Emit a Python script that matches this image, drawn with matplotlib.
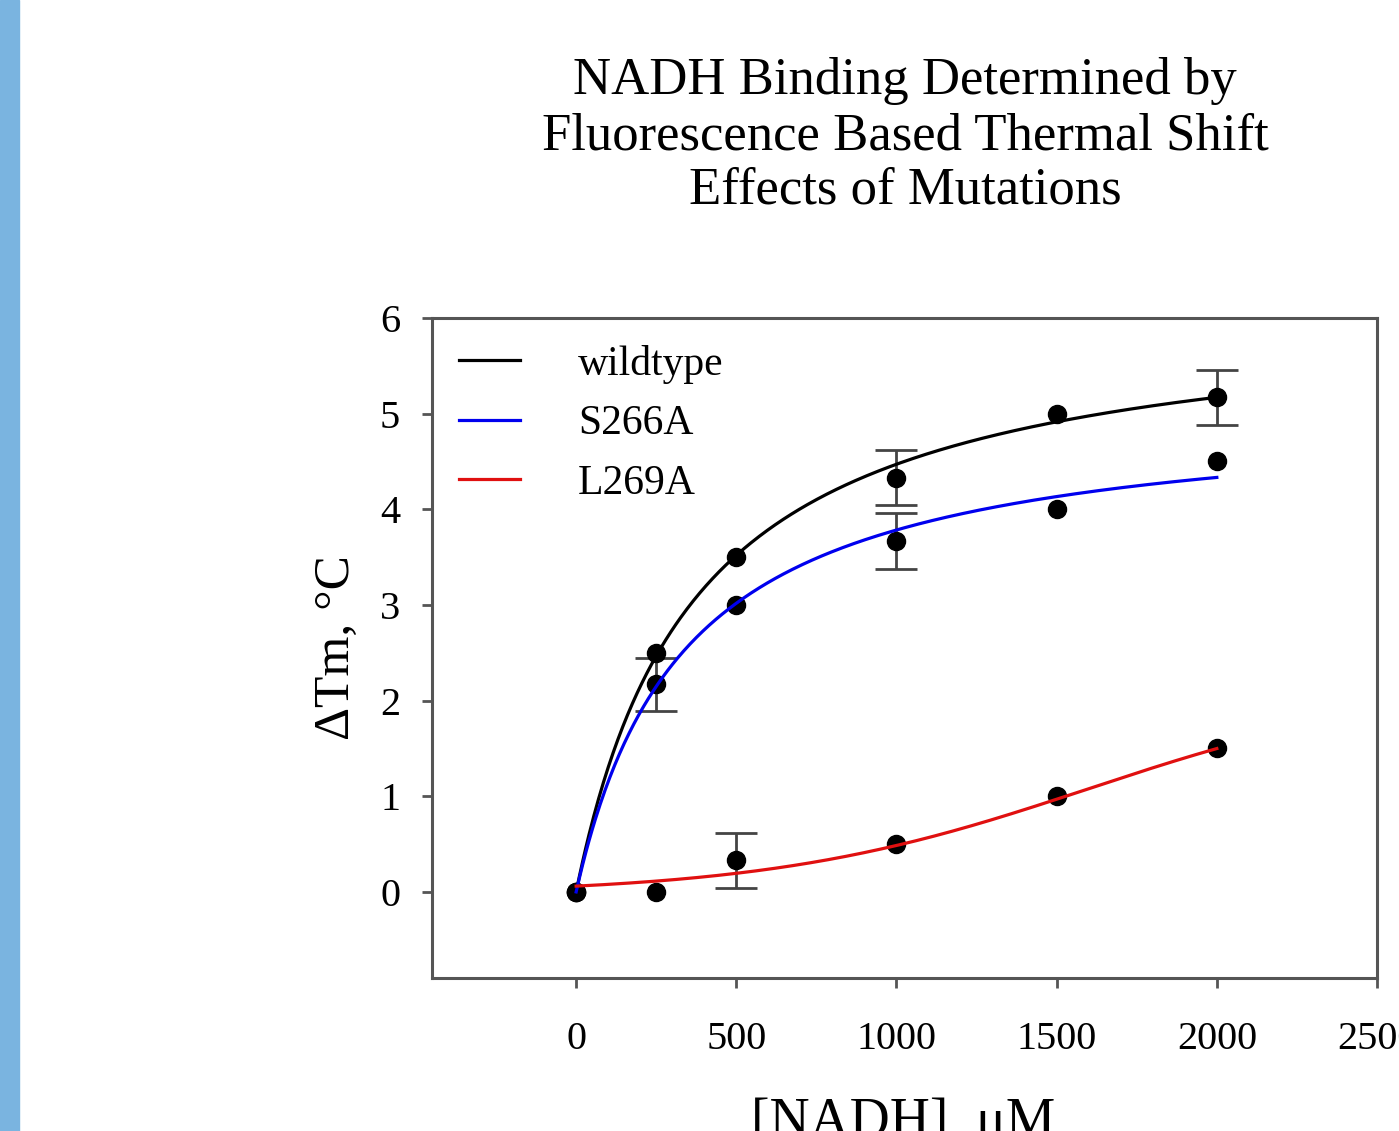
import numpy as np
import matplotlib
matplotlib.use("Agg")
import matplotlib.pyplot as plt
from matplotlib.patches import Rectangle

plt.rcParams['font.family'] = ['Liberation Serif', 'DejaVu Serif']

# measured points, NADH in uM, delta Tm in C
nadh = [0, 250, 500, 1000, 1500, 2000]
wt_tm = [0.0, 2.5, 3.5, 4.33, 5.0, 5.17]
wt_err = [0, 0, 0, 0.29, 0, 0.29]
s266a_tm = [0.0, 2.17, 3.0, 3.67, 4.0, 4.5]
s266a_err = [0, 0.28, 0, 0.29, 0, 0]
l269a_tm = [0.0, 0.0, 0.33, 0.5, 1.0, 1.5]
l269a_err = [0, 0, 0.29, 0, 0, 0]

# fit parameters
wt_bmax, wt_kd = 6.13, 371.0
s266a_bmax, s266a_kd = 5.07, 340.0
l269a_y0, l269a_amp, l269a_mid, l269a_slope = -0.026, 2.21, 1600.0, 500.0

series_names = ["wildtype", "S266A", "L269A"]
series_colors = ["black", "#0000ee", "#e01010"]


def hyperbola(x, bmax, kd):
    return bmax * x / (kd + x)


def sigmoid(x, y0, amp, mid, slope):
    return y0 + amp / (1 + np.exp(-(x - mid) / slope))


fig = plt.figure(figsize=(13.99, 11.31), dpi=100)
fig.patches.append(Rectangle((0, 0), 19 / 1399, 1, transform=fig.transFigure,
                             color="#7ab4e0", zorder=0))
ax = fig.add_axes([432 / 1399, 1 - 978 / 1131, 945 / 1399, 660 / 1131])

xs = np.linspace(0, 2000, 400)
fits = [hyperbola(xs, wt_bmax, wt_kd),
        hyperbola(xs, s266a_bmax, s266a_kd),
        sigmoid(xs, l269a_y0, l269a_amp, l269a_mid, l269a_slope)]
for name, color, fy in zip(series_names, series_colors, fits):
    ax.plot(xs, fy, color=color, lw=2.3, label=name, zorder=4)

for tm, err in [(wt_tm, wt_err), (s266a_tm, s266a_err), (l269a_tm, l269a_err)]:
    e = np.array(err)
    ax.errorbar(nadh, tm, yerr=np.where(e > 0, e, np.nan), fmt="none",
                ecolor="#444444", elinewidth=2.0, capsize=15, capthick=2.0, zorder=2)
    ax.plot(nadh, tm, "o", color="black", ms=13, zorder=3)

ax.set_xlim(-450, 2500)
ax.set_ylim(-0.9, 6)
ax.set_xticks([0, 500, 1000, 1500, 2000, 2500])
ax.set_yticks([0, 1, 2, 3, 4, 5, 6])

for sp in ax.spines.values():
    sp.set_color("#555555")
    sp.set_linewidth(2.2)
ax.tick_params(axis="both", direction="out", length=7, width=2, color="#555555",
               labelsize=29)
ax.tick_params(axis="x", pad=24)
ax.tick_params(axis="y", pad=16)

ax.legend(loc="upper left", bbox_to_anchor=(0.0, 1.0), frameon=False,
          fontsize=30, handlelength=1.45, handletextpad=1.4, labelspacing=0.5,
          borderaxespad=0.25)

fig.text(905 / 1399, 1 - 136 / 1131, "NADH Binding Determined by\nFluorescence Based Thermal Shift\nEffects of Mutations",
         ha="center", va="center", fontsize=38, linespacing=1.18)
ax.set_ylabel("ΔTm, °C", fontsize=37, labelpad=14)
fig.text(903 / 1399, 1 - 1097 / 1131, "[NADH], μM", ha="center", va="top", fontsize=40)

fig.savefig("out.png", dpi=100)
